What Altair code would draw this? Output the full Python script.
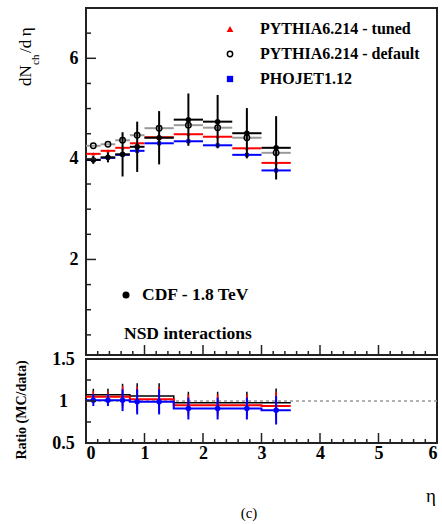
import altair as alt
import pandas as pd

# ---- data ----
eta_lo = [0.0, 0.25, 0.5, 0.75, 1.0, 1.5, 2.0, 2.5, 3.0]
eta_hi = [0.25, 0.5, 0.75, 1.0, 1.5, 2.0, 2.5, 3.0, 3.5]
cdf = [3.98, 4.03, 4.09, 4.24, 4.42, 4.78, 4.74, 4.51, 4.22]
cdf_err = [0.08, 0.10, 0.44, 0.50, 0.53, 0.52, 0.53, 0.50, 0.63]
py_default = [4.26, 4.29, 4.37, 4.47, 4.61, 4.67, 4.62, 4.42, 4.12]
py_tuned = [4.10, 4.16, 4.22, 4.31, 4.43, 4.49, 4.44, 4.21, 3.92]
phojet = [3.98, 4.02, 4.08, 4.16, 4.31, 4.35, 4.27, 4.08, 3.77]

r_default = [1.075, 1.075, 1.075, 1.06, 1.06, 0.98, 0.98, 0.98, 0.98]
r_tuned = [1.05, 1.05, 1.05, 1.02, 1.02, 0.95, 0.95, 0.95, 0.94]
r_phojet = [1.01, 1.01, 1.01, 0.99, 0.99, 0.91, 0.91, 0.91, 0.89]
r_err = [0.07, 0.07, 0.13, 0.15, 0.15, 0.13, 0.13, 0.13, 0.17]

y_major = [2, 4, 6]
y_minor = [0.5, 1, 1.5, 2.5, 3, 3.5, 4.5, 5, 5.5, 6.5]
x_major = [1, 2, 3, 4, 5]
x_minor = [0.2, 0.4, 0.6, 0.8, 1.2, 1.4, 1.6, 1.8, 2.2, 2.4, 2.6, 2.8, 3.2, 3.4, 3.6, 3.8,
           4.2, 4.4, 4.6, 4.8, 5.2, 5.4, 5.6, 5.8]
x_labels = [0, 1, 2, 3, 4, 5, 6]
r_major = [1.0]
r_minor = [0.75, 1.25]
r_labels = [0.5, 1, 1.5]

FONT = "Liberation Serif"
W, H, H2 = 351, 347, 84

df = pd.DataFrame({
    "lo": eta_lo, "hi": eta_hi,
    "c": [(a + b) / 2 for a, b in zip(eta_lo, eta_hi)],
    "cdf": cdf,
    "cdf_lo": [v - e for v, e in zip(cdf, cdf_err)],
    "cdf_hi": [v + e for v, e in zip(cdf, cdf_err)],
    "dflt": py_default, "tuned": py_tuned, "pho": phojet,
    "rd": r_default, "rt": r_tuned, "rp": r_phojet,
    "rd_lo": [v - e for v, e in zip(r_default, r_err)],
    "rd_hi": [v + e for v, e in zip(r_default, r_err)],
    "rt_lo": [v - e for v, e in zip(r_tuned, r_err)],
    "rt_hi": [v + e for v, e in zip(r_tuned, r_err)],
    "rp_lo": [v - e for v, e in zip(r_phojet, r_err)],
    "rp_hi": [v + e for v, e in zip(r_phojet, r_err)],
})

one = pd.DataFrame({"a": [0]})

LABEL = dict(labelFont=FONT, labelFontWeight="bold", labelFontSize=18, labelColor="black")

# ---------------- top panel ----------------
xs = alt.Scale(domain=[0, 6], nice=False, zero=False)
ys = alt.Scale(domain=[0.1, 7], nice=False, zero=False)
yax = alt.Axis(values=y_major, ticks=False, domain=False, grid=False,
               labelPadding=8, title=None, format="d", **LABEL)


def X(f):
    return alt.X(f, type="quantitative", scale=xs, axis=None)


def Y(f):
    return alt.Y(f, type="quantitative", scale=ys, axis=yax)


base = alt.Chart(df)

anchor_top = alt.Chart(one).mark_rule(strokeOpacity=0, opacity=0).encode(
    x=alt.value(-85), x2=alt.value(-85), y=alt.value(-7), y2=alt.value(-6))

gray_bars = base.mark_rule(color="#9a9a9a", strokeWidth=2).encode(
    x=X("lo"), x2="hi", y=Y("dflt"))
open_pts = base.mark_point(shape="circle", filled=False, color="black",
                           size=30, strokeWidth=1.4, opacity=1).encode(x=X("c"), y=Y("dflt"))
red_bars = base.mark_rule(color="#ff0000", strokeWidth=2).encode(
    x=X("lo"), x2="hi", y=Y("tuned"))
red_pts = base.mark_point(shape="triangle-up", filled=True, color="#ff0000",
                          size=14, opacity=1).encode(x=X("c"), y=Y("tuned"))
blue_bars = base.mark_rule(color="#0000ff", strokeWidth=2).encode(
    x=X("lo"), x2="hi", y=Y("pho"))
blue_pts = base.mark_point(shape="square", filled=True, color="#0000ff",
                           size=16, opacity=1).encode(x=X("c"), y=Y("pho"))
data_bars = base.mark_rule(color="black", strokeWidth=2).encode(
    x=X("lo"), x2="hi", y=Y("cdf"))
data_err = base.mark_rule(color="black", strokeWidth=2).encode(
    x=X("c"), y=Y("cdf_lo"), y2="cdf_hi")
data_pts = base.mark_circle(color="black", size=30, opacity=1).encode(
    x=X("c"), y=Y("cdf"))

ytick_major = alt.Chart(pd.DataFrame({"v": y_major})).mark_rule(
    color="#222", strokeWidth=1.5).encode(x=alt.value(0), x2=alt.value(10), y=Y("v"))
ytick_minor = alt.Chart(pd.DataFrame({"v": y_minor})).mark_rule(
    color="#222", strokeWidth=1.5).encode(x=alt.value(0), x2=alt.value(5), y=Y("v"))
xtick_major = alt.Chart(pd.DataFrame({"v": x_major})).mark_rule(
    color="#222", strokeWidth=1.5).encode(x=X("v"), y=alt.value(H), y2=alt.value(H - 10))
xtick_minor = alt.Chart(pd.DataFrame({"v": x_minor})).mark_rule(
    color="#222", strokeWidth=1.5).encode(x=X("v"), y=alt.value(H), y2=alt.value(H - 4))


def txt(s, x, y, size=16, weight="bold", align="left", angle=0, font=FONT):
    kw = dict(text=s, font=font, fontSize=size, fontWeight=weight, align=align,
              baseline="middle", color="black")
    if angle:
        kw["angle"] = angle
    return alt.Chart(one).mark_text(**kw).encode(x=alt.value(x), y=alt.value(y))


leg_tri = alt.Chart(one).mark_point(shape="triangle-up", filled=True, color="#ff0000",
                                    size=45, opacity=1).encode(x=alt.value(144), y=alt.value(21))
leg_circ = alt.Chart(one).mark_point(shape="circle", filled=False, color="black",
                                     size=28, strokeWidth=1.5, opacity=1).encode(x=alt.value(144), y=alt.value(46))
leg_sq = alt.Chart(one).mark_point(shape="square", filled=True, color="#0000ff",
                                   size=40, opacity=1).encode(x=alt.value(144), y=alt.value(71))
cdf_dot = alt.Chart(one).mark_circle(color="black", size=50, opacity=1).encode(
    x=alt.value(40), y=alt.value(287))

top = alt.layer(
    anchor_top,
    gray_bars, open_pts, red_bars, red_pts, blue_bars, blue_pts,
    data_bars, data_err, data_pts,
    ytick_major, ytick_minor, xtick_major, xtick_minor,
    leg_tri, leg_circ, leg_sq,
    txt("PYTHIA6.214 - tuned", 174, 21),
    txt("PYTHIA6.214 - default", 174, 46),
    txt("PHOJET1.12", 174, 71),
    cdf_dot,
    txt("CDF - 1.8 TeV", 56, 287, size=17.5),
    txt("NSD interactions", 38, 326, size=17.5),
    txt("dN", -60, 78, size=17, weight="normal", angle=270),
    txt("ch", -50, 57, size=11, weight="normal", angle=270),
    txt("/d\u2009η", -60, 45, size=17, weight="normal", angle=270),
).properties(width=W, height=H)

# ---------------- ratio panel ----------------
rys = alt.Scale(domain=[0.5, 1.5], nice=False, zero=False)
rxax = alt.Axis(values=x_labels, ticks=False, domain=False, grid=False,
                labelPadding=1, title=None, format="d", **LABEL)
ryax = alt.Axis(values=r_labels, ticks=False, domain=False, grid=False,
                labelPadding=23, labelAlign="center", title=None, format="~g", **LABEL)


def RX(f):
    return alt.X(f, type="quantitative", scale=xs, axis=rxax)


def RY(f):
    return alt.Y(f, type="quantitative", scale=rys, axis=ryax)


edges = eta_lo + [eta_hi[-1]]
step_df = pd.DataFrame({
    "x": edges,
    "rd": r_default + [r_default[-1]],
    "rt": r_tuned + [r_tuned[-1]],
    "rp": r_phojet + [r_phojet[-1]],
})
sbase = alt.Chart(step_df)
rbase = alt.Chart(df)

anchor_bot = alt.Chart(one).mark_rule(strokeOpacity=0, opacity=0).encode(
    x=alt.value(-85), x2=alt.value(-85), y=alt.value(40), y2=alt.value(41))

unity = alt.Chart(pd.DataFrame({"x0": [0], "x1": [6], "y": [1]})).mark_rule(
    color="#999999", strokeWidth=1.5, strokeDash=[3, 3]).encode(
    x=RX("x0"), x2="x1", y=RY("y"))
step_d = sbase.mark_line(interpolate="step-after", color="black", strokeWidth=1.5).encode(
    x=RX("x"), y=RY("rd"))
step_t = sbase.mark_line(interpolate="step-after", color="#ff0000", strokeWidth=2).encode(
    x=RX("x"), y=RY("rt"))
step_p = sbase.mark_line(interpolate="step-after", color="#0000ff", strokeWidth=2).encode(
    x=RX("x"), y=RY("rp"))
err_d = rbase.mark_rule(color="black", strokeWidth=1.5).encode(x=RX("c"), y=RY("rd_lo"), y2="rd_hi")
err_t = rbase.mark_rule(color="#ff0000", strokeWidth=1.5).encode(x=RX("c"), y=RY("rt_lo"), y2="rt_hi")
err_p = rbase.mark_rule(color="#0000ff", strokeWidth=2).encode(x=RX("c"), y=RY("rp_lo"), y2="rp_hi")
pts_p = rbase.mark_circle(color="#0000ff", size=30, opacity=1).encode(x=RX("c"), y=RY("rp"))

rtick_major = alt.Chart(pd.DataFrame({"v": r_major})).mark_rule(
    color="#222", strokeWidth=1.5).encode(x=alt.value(0), x2=alt.value(10), y=RY("v"))
rtick_minor = alt.Chart(pd.DataFrame({"v": r_minor})).mark_rule(
    color="#222", strokeWidth=1.5).encode(x=alt.value(0), x2=alt.value(5), y=RY("v"))
rxtick_major = alt.Chart(pd.DataFrame({"v": x_major})).mark_rule(
    color="#222", strokeWidth=1.5).encode(x=RX("v"), y=alt.value(H2), y2=alt.value(H2 - 10))
rxtick_minor = alt.Chart(pd.DataFrame({"v": x_minor})).mark_rule(
    color="#222", strokeWidth=1.5).encode(x=RX("v"), y=alt.value(H2), y2=alt.value(H2 - 4))

bottom = alt.layer(
    anchor_bot, unity, step_d, step_t, step_p, err_d, err_t, err_p, pts_p,
    rtick_major, rtick_minor, rxtick_major, rxtick_minor,
    txt("Ratio (MC/data)", -64, 51, size=14, weight="bold", align="center", angle=270),
    txt("η", 345, 137, size=19, weight="normal", align="center"),
    txt("(c)", 163, 154, size=15, weight="normal", align="center"),
).properties(width=W, height=H2)

chart = alt.vconcat(top, bottom, spacing=4, bounds="flush", padding=0).configure_view(
    stroke="#222", strokeWidth=2
)

chart.save("out.html", embed_options={"renderer": "svg", "actions": False})
